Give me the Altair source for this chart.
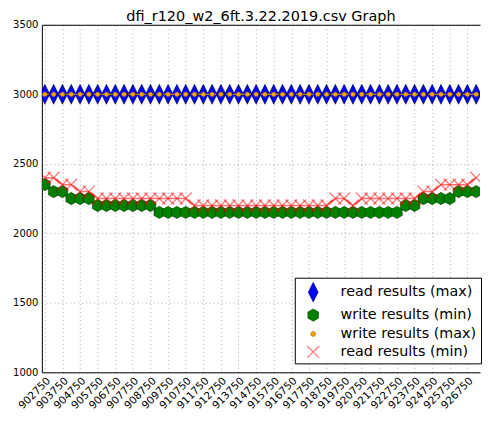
import altair as alt
import pandas as pd

x_vals = [902750, 903250, 903750, 904250, 904750, 905250, 905750, 906250, 906750, 907250,
          907750, 908250, 908750, 909250, 909750, 910250, 910750, 911250, 911750, 912250,
          912750, 913250, 913750, 914250, 914750, 915250, 915750, 916250, 916750, 917250,
          917750, 918250, 918750, 919250, 919750, 920250, 920750, 921250, 921750, 922250,
          922750, 923250, 923750, 924250, 924750, 925250, 925750, 926250, 926750, 927250]

read_max = [3000, 3000, 3000, 3000, 3000, 3000, 3000, 3000, 3000, 3000,
            3000, 3000, 3000, 3000, 3000, 3000, 3000, 3000, 3000, 3000,
            3000, 3000, 3000, 3000, 3000, 3000, 3000, 3000, 3000, 3000,
            3000, 3000, 3000, 3000, 3000, 3000, 3000, 3000, 3000, 3000,
            3000, 3000, 3000, 3000, 3000, 3000, 3000, 3000, 3000, 3000]

write_min = [2350, 2300, 2300, 2250, 2250, 2250, 2200, 2200, 2200, 2200,
             2200, 2200, 2200, 2150, 2150, 2150, 2150, 2150, 2150, 2150,
             2150, 2150, 2150, 2150, 2150, 2150, 2150, 2150, 2150, 2150,
             2150, 2150, 2150, 2150, 2150, 2150, 2150, 2150, 2150, 2150,
             2150, 2200, 2200, 2250, 2250, 2250, 2250, 2300, 2300, 2300]

write_max = [3000, 3000, 3000, 3000, 3000, 3000, 3000, 3000, 3000, 3000,
             3000, 3000, 3000, 3000, 3000, 3000, 3000, 3000, 3000, 3000,
             3000, 3000, 3000, 3000, 3000, 3000, 3000, 3000, 3000, 3000,
             3000, 3000, 3000, 3000, 3000, 3000, 3000, 3000, 3000, 3000,
             3000, 3000, 3000, 3000, 3000, 3000, 3000, 3000, 3000, 3000]

read_min = [2400, 2400, 2350, 2350, 2300, 2300, 2250, 2250, 2250, 2250,
            2250, 2250, 2250, 2250, 2250, 2250, 2250, 2200, 2200, 2200,
            2200, 2200, 2200, 2200, 2200, 2200, 2200, 2200, 2200, 2200,
            2200, 2200, 2200, 2250, 2250, 2200, 2250, 2250, 2250, 2250,
            2250, 2250, 2250, 2300, 2300, 2350, 2350, 2350, 2350, 2400]

series_names = ["read results (max)", "write results (min)",
                "write results (max)", "read results (min)"]

x_ticks = [902750, 903750, 904750, 905750, 906750, 907750, 908750, 909750, 910750,
           911750, 912750, 913750, 914750, 915750, 916750, 917750, 918750, 919750,
           920750, 921750, 922750, 923750, 924750, 925750, 926750]
y_ticks = [1000, 1500, 2000, 2500, 3000, 3500]

rows = []
for name, vals in zip(series_names, [read_max, write_min, write_max, read_min]):
    for xv, yv in zip(x_vals, vals):
        rows.append({"x": xv, "y": yv, "s": name})
df = pd.DataFrame(rows)

FONT = "DejaVu Sans"

diamond = "M0,-1L0.5,0L0,1L-0.5,0Z"
hexagon = "M0,-0.62L0.537,-0.31L0.537,0.31L0,0.62L-0.537,0.31L-0.537,-0.31Z"
circ = "M-0.24,0A0.24,0.24,0,1,0,0.24,0A0.24,0.24,0,1,0,-0.24,0Z"
xmark = ("M-0.62,-0.55L-0.55,-0.62L0,-0.07L0.55,-0.62L0.62,-0.55L0.07,0"
         "L0.62,0.55L0.55,0.62L0,0.07L-0.55,0.62L-0.62,0.55L-0.07,0Z")

xscale = alt.Scale(domain=[902580, 927467], nice=False, zero=False)
yscale = alt.Scale(domain=[1000, 3500], nice=False, zero=False)

x_bottom = alt.X("x:Q", scale=xscale,
                 axis=alt.Axis(values=x_ticks, format="d", labelAngle=-45, title=None,
                               grid=True, ticks=False, labelPadding=3, labelOverlap=False,
                               labelFontSize=10.5))
x_top = alt.X("x:Q", scale=xscale,
              axis=alt.Axis(orient="top", labels=False, ticks=False, grid=False,
                            domain=True, title=None))
x_none = alt.X("x:Q", scale=xscale, axis=None)
y_enc = alt.Y("y:Q", scale=yscale,
              axis=alt.Axis(values=y_ticks, format="d", title=None, grid=True, ticks=False,
                            labelPadding=4, minExtent=34, maxExtent=34))

fill_enc = alt.Fill("s:N", title=None,
                    scale=alt.Scale(domain=series_names,
                                    range=["#0000ff", "#007f00", "#ffa500", "rgba(255,0,0,0.45)"]))
stroke_enc = alt.Stroke("s:N", title=None,
                        scale=alt.Scale(domain=series_names,
                                        range=["#000000", "#002a00", "#7a4a00", "rgba(255,0,0,0.45)"]))
shape_enc = alt.Shape("s:N", title=None,
                      scale=alt.Scale(domain=series_names,
                                      range=[diamond, hexagon, circ, xmark]))

base = alt.Chart(df)

blue_line = base.transform_filter(alt.datum.s == series_names[0]).mark_line(
    color="#0000ff", strokeWidth=1, clip=True).encode(x=x_top, y=y_enc)

pts1 = base.transform_filter(
    (alt.datum.s == series_names[0]) | (alt.datum.s == series_names[1])
).mark_point(filled=True, size=400, strokeWidth=0.5, opacity=1, clip=True).encode(
    x=x_bottom, y=y_enc, fill=fill_enc, stroke=stroke_enc, shape=shape_enc)

orange_line = base.transform_filter(alt.datum.s == series_names[2]).mark_line(
    color="#ffa500", strokeWidth=1, strokeDash=[4, 3], clip=True).encode(x=x_none, y=y_enc)

pts2 = base.transform_filter(alt.datum.s == series_names[2]).mark_point(
    filled=True, size=400, strokeWidth=0.5, opacity=1, clip=True).encode(
    x=x_none, y=y_enc, fill=fill_enc, stroke=stroke_enc, shape=shape_enc)

red_line = base.transform_filter(alt.datum.s == series_names[3]).mark_line(
    color="#ff0000", strokeWidth=1.5, opacity=0.55, clip=True).encode(x=x_none, y=y_enc)

pts3 = base.transform_filter(alt.datum.s == series_names[3]).mark_point(
    filled=True, size=400, strokeWidth=0.5, opacity=1, clip=True).encode(
    x=x_none, y=y_enc, fill=fill_enc, stroke=stroke_enc, shape=shape_enc)

chart = alt.layer(blue_line, pts1, orange_line, pts2, red_line, pts3).resolve_axis(
    x="independent"
).properties(
    width=440, height=349,
    padding={"left": 0, "top": 0, "right": 0, "bottom": 0},
    title=alt.TitleParams("dfi_r120_w2_6ft.3.22.2019.csv Graph", fontSize=14.5, font=FONT,
                          fontWeight="normal", color="#000000", offset=-5, anchor="middle")
).configure_view(stroke=None).configure_axis(
    labelFont=FONT, labelFontSize=10, labelColor="#000000",
    domainColor="#000000", domainWidth=1,
    gridColor="#888888", gridDash=[1, 3], gridWidth=0.7
).configure_legend(
    orient="none", legendX=254, legendY=254,
    fillColor="#ffffff", strokeColor="#000000", strokeWidth=1, cornerRadius=0,
    padding=4, rowPadding=1, labelFont=FONT, labelFontSize=14.4, labelColor="#000000",
    symbolSize=400, symbolStrokeWidth=0.5, labelOffset=17, symbolOffset=4
)

chart.save("out.html", embed_options={"renderer": "svg", "actions": False})
